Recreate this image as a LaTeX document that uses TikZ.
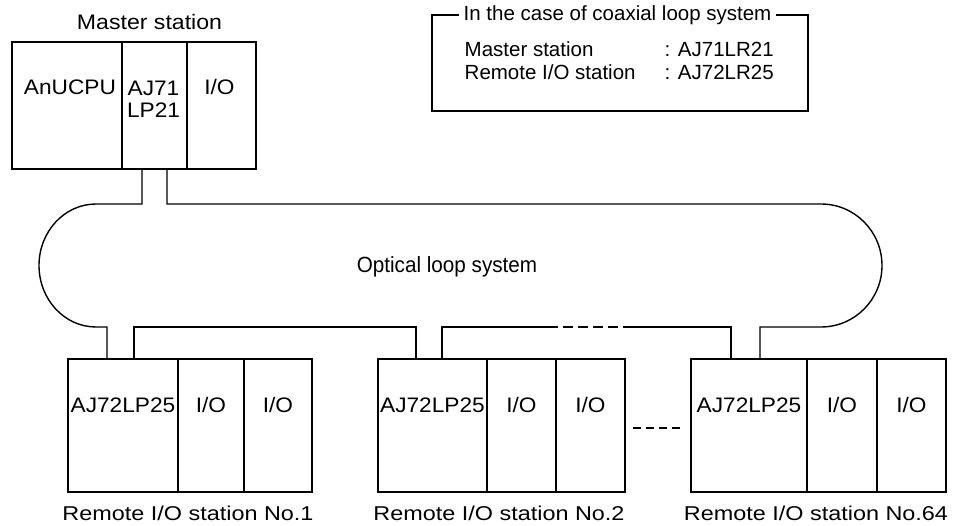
\documentclass[tikz,border=0pt]{standalone}
\usepackage{fontspec}
\setmainfont{Liberation Sans}
\usetikzlibrary{calc}
\begin{document}
\begin{tikzpicture}[x=1pt,y=-1pt,line width=1.4pt,
  modbox/.style={draw, rectangle, inner sep=0pt, outer sep=0pt, anchor=north west},
  modtxt/.style={font=\fontsize{21}{22}\selectfont, inner sep=0pt, xscale=1.08},
  cotxt/.style={font=\fontsize{20.5}{22}\selectfont, inner sep=0pt},
  stlbl/.style={font=\fontsize{20}{22}\selectfont, inner sep=0pt, xscale=1.17, anchor=base},
  dotline/.style={dash pattern=on 10pt off 5pt}]
\useasboundingbox (0,0) rectangle (967,526);

% ---------- master station ----------
\node[font=\fontsize{21}{22}\selectfont, inner sep=0pt, xscale=1.1, anchor=base] (mlabel) at (149.5,30) {Master station};
\node[modbox, minimum width=110pt, minimum height=127pt] (mcpu) at (12,42) {};
\node[modbox, minimum width=65pt,  minimum height=127pt] (mlp)  at (122,42) {};
\node[modbox, minimum width=69pt,  minimum height=127pt] (mio)  at (187,42) {};
\node[modtxt, anchor=base] (tcpu) at ($(mcpu.north)+(3,53)$) {AnUCPU};
\node[modtxt, anchor=north, align=center] (tlp) at ($(mlp.north)+(-1,38)$) {AJ71\\LP21};
\node[modtxt, anchor=base] (tmio) at ($(mio.north)+(-2,53)$) {I/O};

% ---------- coaxial note ----------
\node[draw, rectangle, inner sep=0pt, outer sep=0pt, anchor=north west,
      minimum width=376pt, minimum height=96pt] (coax) at (432,15) {};
\node[cotxt, fill=white, inner xsep=5pt, anchor=base west] (ctitle) at (458,21) {In the case of coaxial loop system};
\node[cotxt, anchor=base west] (cm)  at (464,57) {Master station};
\node[cotxt, anchor=base west] (cr)  at (464,80) {Remote I/O station};
\node[cotxt, anchor=base west] (cmv) at (664,57) {: AJ71LR21};
\node[cotxt, anchor=base west] (crv) at (664,80) {: AJ72LR25};

% ---------- remote stations ----------
\node[modbox, minimum width=110pt, minimum height=133pt] (s1a) at (68,359) {};
\node[modbox, minimum width=66pt,  minimum height=133pt] (s1b) at (178,359) {};
\node[modbox, minimum width=68pt,  minimum height=133pt] (s1c) at (244,359) {};
\node[modbox, minimum width=109pt, minimum height=133pt] (s2a) at (378,359) {};
\node[modbox, minimum width=69pt,  minimum height=133pt] (s2b) at (487,359) {};
\node[modbox, minimum width=69pt,  minimum height=133pt] (s2c) at (556,359) {};
\node[modbox, minimum width=116pt, minimum height=133pt] (s3a) at (691,359) {};
\node[modbox, minimum width=70pt,  minimum height=133pt] (s3b) at (807,359) {};
\node[modbox, minimum width=69pt,  minimum height=133pt] (s3c) at (877,359) {};

\node[modtxt, anchor=base] (ts1a) at ($(s1a.north)+(0,54)$) {AJ72LP25};
\node[modtxt, anchor=base] (ts1b) at ($(s1b.north)+(0,54)$) {I/O};
\node[modtxt, anchor=base] (ts1c) at ($(s1c.north)+(0,54)$) {I/O};
\node[modtxt, anchor=base] (ts2a) at ($(s2a.north)+(0,54)$) {AJ72LP25};
\node[modtxt, anchor=base] (ts2b) at ($(s2b.north)+(0,54)$) {I/O};
\node[modtxt, anchor=base] (ts2c) at ($(s2c.north)+(0,54)$) {I/O};
\node[modtxt, anchor=base] (ts3a) at ($(s3a.north)+(0,54)$) {AJ72LP25};
\node[modtxt, anchor=base] (ts3b) at ($(s3b.north)+(0,54)$) {I/O};
\node[modtxt, anchor=base] (ts3c) at ($(s3c.north)+(0,54)$) {I/O};

\node[stlbl] (l1) at (188,521) {Remote I/O station No.1};
\node[stlbl] (l2) at (499,521) {Remote I/O station No.2};
\node[stlbl] (l3) at (816,521) {Remote I/O station No.64};

% ---------- optical loop ----------
\node[font=\fontsize{22}{24}\selectfont, inner sep=0pt, xscale=0.94, anchor=base] (loopl) at (447,273) {Optical loop system};

\coordinate (mcL) at ($(mlp.south west)+(20,0)$);
\coordinate (mcR) at ($(mlp.south west)+(45,0)$);
\coordinate (ltop) at (96,204);
\coordinate (lbot) at (96,327);
\coordinate (rtop) at (821,204);
\coordinate (rbot) at (821,327);
\coordinate (c1L) at ($(s1a.north west)+(39,0)$);
\coordinate (c1R) at ($(s1a.north west)+(66,0)$);
\coordinate (c2L) at ($(s2a.north west)+(38,0)$);
\coordinate (c2R) at ($(s2a.north west)+(64,0)$);
\coordinate (c3L) at ($(s3a.north west)+(40,0)$);
\coordinate (c3R) at ($(s3a.north west)+(69,0)$);
\coordinate (d1) at (548,327);
\coordinate (d2) at (630,327);

\draw (mcL) -- (mcL |- ltop) -- (ltop)
  arc[start angle=270, end angle=90, x radius=57, y radius=61.5]
  -- (c1L |- lbot) -- (c1L);
\draw (c1R) -- (c1R |- lbot) -- (c2L |- lbot) -- (c2L);
\draw (c2R) -- (c2R |- lbot) -- (d1);
\draw[dotline] (d1) -- (d2);
\draw (d2) -- (c3L |- lbot) -- (c3L);
\draw (c3R) -- (c3R |- lbot) -- (rbot)
  arc[start angle=90, end angle=-90, x radius=61, y radius=61.5]
  -- (mcR |- rtop) -- (mcR);

% ---------- gap between station 2 and 64 ----------
\coordinate (g1) at ($(s2c.north east)+(8,69)$);
\coordinate (g2) at ($(s3a.north west)+(-11,69)$);
\draw[dash pattern=on 8pt off 5pt] (g1) -- (g2);
\end{tikzpicture}
\end{document}
